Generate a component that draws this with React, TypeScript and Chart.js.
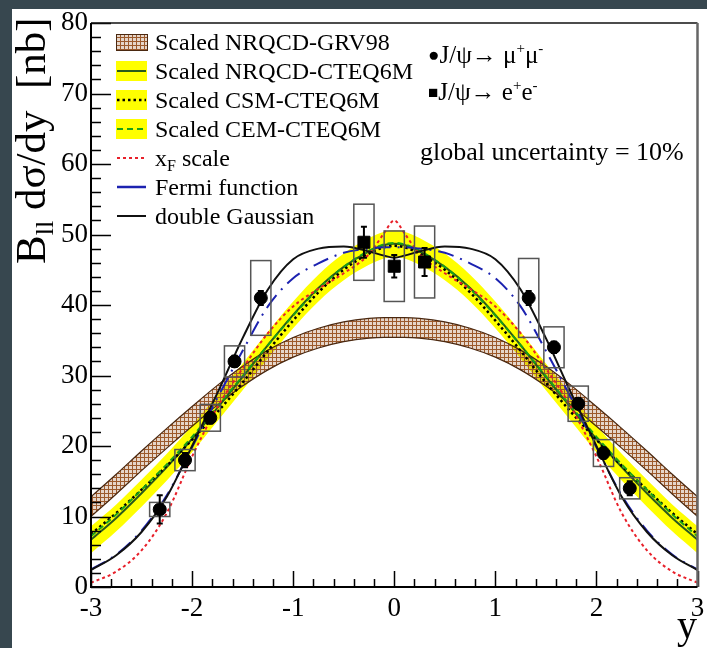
import React, { useEffect, useRef } from 'react';
import { Chart, registerables } from 'chart.js';

Chart.register(...registerables);

const FONT = '"Liberation Serif", "Times New Roman", serif';

// rapidity grid for the theory curves
const CURVE_Y = [-3, -2.75, -2.5, -2.25, -2, -1.75, -1.5, -1.25, -1, -0.75, -0.5, -0.25, -0.1, 0, 0.1, 0.25, 0.5, 0.75, 1, 1.25, 1.5, 1.75, 2, 2.25, 2.5, 2.75, 3];

const GRV_UPPER = [12.8, 16.0, 19.3, 22.5, 25.6, 28.6, 31.3, 33.6, 35.4, 36.7, 37.6, 38.1, 38.2, 38.2, 38.2, 38.1, 37.6, 36.7, 35.4, 33.6, 31.3, 28.6, 25.6, 22.5, 19.3, 16.0, 12.8];
const GRV_LOWER = [10.0, 13.2, 16.5, 19.7, 22.8, 25.8, 28.5, 30.8, 32.6, 33.9, 34.8, 35.3, 35.4, 35.4, 35.4, 35.3, 34.8, 33.9, 32.6, 30.8, 28.5, 25.8, 22.8, 19.7, 16.5, 13.2, 10.0];
const NRQCD = [6.7, 9.8, 13.3, 17.0, 21.0, 25.4, 29.8, 34.3, 38.6, 42.4, 45.4, 47.6, 48.5, 48.7, 48.5, 47.6, 45.4, 42.4, 38.6, 34.3, 29.8, 25.4, 21.0, 17.0, 13.3, 9.8, 6.7];
const NRQCD_UPPER = [8.6, 11.7, 15.2, 18.9, 22.9, 27.3, 31.7, 36.2, 40.5, 44.3, 47.3, 49.5, 50.4, 50.6, 50.4, 49.5, 47.3, 44.3, 40.5, 36.2, 31.7, 27.3, 22.9, 18.9, 15.2, 11.7, 8.6];
const NRQCD_LOWER = [4.8, 7.9, 11.4, 15.1, 19.1, 23.5, 27.9, 32.4, 36.7, 40.5, 43.5, 45.7, 46.6, 46.8, 46.6, 45.7, 43.5, 40.5, 36.7, 32.4, 27.9, 23.5, 19.1, 15.1, 11.4, 7.9, 4.8];
const CSM = [7.5, 10.5, 13.8, 17.2, 20.9, 24.8, 29.0, 33.5, 37.8, 41.8, 45.0, 47.3, 48.2, 48.4, 48.2, 47.3, 45.0, 41.8, 37.8, 33.5, 29.0, 24.8, 20.9, 17.2, 13.8, 10.5, 7.5];
const CEM = [7.2, 10.3, 13.8, 17.4, 21.3, 25.6, 29.9, 34.3, 38.5, 42.3, 45.4, 47.7, 48.6, 48.8, 48.6, 47.7, 45.4, 42.3, 38.5, 34.3, 29.9, 25.6, 21.3, 17.4, 13.8, 10.3, 7.2];
const XF_SCALE = [0.6, 2.2, 5.2, 10.5, 18.5, 25.5, 31.0, 36.0, 39.8, 42.3, 44.5, 47.2, 50.2, 52.0, 50.2, 47.2, 44.5, 42.3, 39.8, 36.0, 31.0, 25.5, 18.5, 10.5, 5.2, 2.2, 0.6];
const FERMI = [2.5, 4.6, 8.0, 13.0, 19.8, 26.8, 33.5, 39.8, 43.8, 45.9, 47.4, 48.0, 48.2, 48.2, 48.2, 48.0, 47.4, 45.9, 43.8, 39.8, 33.5, 26.8, 19.8, 13.0, 8.0, 4.6, 2.5];
const DGAUSS = [2.4, 4.5, 7.8, 12.8, 20.0, 27.5, 35.3, 42.2, 46.5, 48.0, 48.3, 47.6, 47.0, 46.7, 47.0, 47.6, 48.3, 48.0, 46.5, 42.2, 35.3, 27.5, 20.0, 12.8, 7.8, 4.5, 2.4];

// data: J/psi -> mu+ mu-
const MUMU_Y = [-2.32, -2.07, -1.82, -1.58, -1.32, 1.33, 1.58, 1.82, 2.07, 2.33];
const MUMU_V = [11, 18, 24, 32, 41, 41, 34, 26, 19, 14];
const MUMU_STAT = [2.0, 1.0, 0.8, 0.8, 1.0, 1.0, 0.8, 0.8, 0.8, 1.0];
const MUMU_SYS = [1.0, 1.5, 1.9, 2.2, 5.3, 5.6, 2.9, 2.5, 1.9, 1.5];
// data: J/psi -> e+ e-
const EE_Y = [-0.3, 0, 0.3];
const EE_V = [48.9, 45.5, 46.1];
const EE_STAT = [2.2, 1.6, 2.0];
const EE_SYS = [5.4, 5.0, 5.1];
const BOX_HALF_WIDTH = 0.1;

const X_TICKS = [-3, -2, -1, 0, 1, 2, 3];
const Y_TICKS = [0, 10, 20, 30, 40, 50, 60, 70, 80];

const LEGEND_LABELS = [
  'Scaled NRQCD-GRV98',
  'Scaled NRQCD-CTEQ6M',
  'Scaled CSM-CTEQ6M',
  'Scaled CEM-CTEQ6M',
  'x_F scale',
  'Fermi function',
  'double Gaussian',
];

// page offset of the canvas
const OX = 12;
const OY = 9;

type Part = [string, number, number];

function rich(ctx: CanvasRenderingContext2D, x: number, y: number, parts: Part[]) {
  let cx = x;
  for (const [t, size, dy] of parts) {
    ctx.font = `${size}px ${FONT}`;
    ctx.fillText(t, cx, y + dy);
    cx += ctx.measureText(t).width;
  }
  return cx;
}

function pts(xs: number[], ys: number[]) {
  return xs.map((x, i) => ({ x, y: ys[i] }));
}

export default function App() {
  const ref = useRef<HTMLCanvasElement>(null);

  useEffect(() => {
    const canvas = ref.current!;
    const c2d = canvas.getContext('2d')!;
    const tile = document.createElement('canvas');
    tile.width = 4;
    tile.height = 4;
    const tg = tile.getContext('2d')!;
    tg.fillStyle = '#9c5a2c';
    tg.fillRect(0, 0, 4, 1);
    tg.fillRect(0, 0, 1, 4);
    tg.fillStyle = 'rgba(156,90,44,0.25)';
    tg.fillRect(1, 1, 3, 3);
    const hatch = c2d.createPattern(tile, 'repeat')!;

    const lineBase = {
      type: 'line' as const,
      pointRadius: 0,
      fill: false,
      cubicInterpolationMode: 'monotone' as const,
      borderWidth: 2,
    };

    const decor = {
      id: 'decor',
      afterDatasetsDraw(chart: any) {
        const { ctx, scales } = chart;
        const x = scales.x;
        const y = scales.y;
        ctx.save();
        ctx.strokeStyle = '#555';
        ctx.lineWidth = 1.5;
        const boxes = (ys: number[], vs: number[], sys: number[]) => {
          ys.forEach((yy, i) => {
            const x0 = x.getPixelForValue(yy - BOX_HALF_WIDTH);
            const x1 = x.getPixelForValue(yy + BOX_HALF_WIDTH);
            const y0 = y.getPixelForValue(vs[i] + sys[i]);
            const y1 = y.getPixelForValue(vs[i] - sys[i]);
            ctx.strokeRect(x0, y0, x1 - x0, y1 - y0);
          });
        };
        boxes(MUMU_Y, MUMU_V, MUMU_SYS);
        boxes(EE_Y, EE_V, EE_SYS);
        ctx.strokeStyle = '#000';
        ctx.lineWidth = 2;
        const bars = (ys: number[], vs: number[], st: number[]) => {
          ys.forEach((yy, i) => {
            const px = x.getPixelForValue(yy);
            const y0 = y.getPixelForValue(vs[i] + st[i]);
            const y1 = y.getPixelForValue(vs[i] - st[i]);
            ctx.beginPath();
            ctx.moveTo(px, y0);
            ctx.lineTo(px, y1);
            ctx.moveTo(px - 3, y0);
            ctx.lineTo(px + 3, y0);
            ctx.moveTo(px - 3, y1);
            ctx.lineTo(px + 3, y1);
            ctx.stroke();
          });
        };
        bars(MUMU_Y, MUMU_V, MUMU_STAT);
        bars(EE_Y, EE_V, EE_STAT);
        ctx.restore();
      },
      afterDraw(chart: any) {
        const { ctx, chartArea: a, scales } = chart;
        const x = scales.x;
        const y = scales.y;
        ctx.save();
        ctx.strokeStyle = '#000';
        ctx.lineWidth = 1.5;
        ctx.beginPath();
        for (let v = 0; v <= 80; v += 2) {
          const py = Math.round(y.getPixelForValue(v)) + 0.5;
          const len = v % 10 === 0 ? 20 : 10;
          ctx.moveTo(a.left, py);
          ctx.lineTo(a.left + len, py);
        }
        for (let k = -15; k <= 15; k++) {
          const t = k / 5;
          const px = Math.round(x.getPixelForValue(t)) + 0.5;
          const len = k % 5 === 0 ? 16 : 8;
          ctx.moveTo(px, a.bottom);
          ctx.lineTo(px, a.bottom - len);
        }
        ctx.stroke();
        ctx.lineWidth = 1.5;
        ctx.strokeStyle = '#111';
        ctx.beginPath();
        ctx.moveTo(a.left, a.top);
        ctx.lineTo(a.right, a.top);
        ctx.stroke();
        ctx.lineWidth = 2.5;
        ctx.strokeStyle = '#666';
        ctx.beginPath();
        ctx.moveTo(a.right, a.top);
        ctx.lineTo(a.right, a.bottom);
        ctx.stroke();
        ctx.lineWidth = 2;
        ctx.strokeStyle = '#000';
        ctx.beginPath();
        ctx.moveTo(a.left, a.top);
        ctx.lineTo(a.left, a.bottom);
        ctx.lineTo(a.right, a.bottom);
        ctx.stroke();

        // legend
        const lx0 = 116 - OX;
        const lx1 = 147 - OX;
        const rowY = [42, 71, 100, 129, 158, 187, 216].map((v) => v - OY);
        ctx.fillStyle = hatch;
        ctx.fillRect(lx0, rowY[0] - 8, lx1 - lx0, 16);
        ctx.strokeStyle = '#4a2810';
        ctx.lineWidth = 1;
        ctx.strokeRect(lx0 + 0.5, rowY[0] - 8 + 0.5, lx1 - lx0, 16);
        for (let r = 1; r <= 3; r++) {
          ctx.fillStyle = '#ffff00';
          ctx.fillRect(lx0, rowY[r] - 10, lx1 - lx0, 20);
        }
        const seg = (r: number, color: string, dash: number[], w: number) => {
          ctx.strokeStyle = color;
          ctx.lineWidth = w;
          ctx.setLineDash(dash);
          ctx.beginPath();
          ctx.moveTo(lx0 + 1, rowY[r]);
          ctx.lineTo(lx1 - 1, rowY[r]);
          ctx.stroke();
          ctx.setLineDash([]);
        };
        seg(1, '#2a5a1c', [], 2);
        seg(2, '#000', [2.5, 3], 2.5);
        seg(3, '#1aa01a', [6, 4], 2);
        seg(4, '#e8202a', [3, 3], 2);
        seg(5, '#1c22b0', [30], 2.5);
        seg(6, '#111', [], 2);

        ctx.fillStyle = '#000';
        ctx.textAlign = 'left';
        ctx.textBaseline = 'alphabetic';
        const tx = 155 - OX;
        const fs = 24;
        LEGEND_LABELS.forEach((lab, i) => {
          const by = rowY[i] + 8;
          if (lab.startsWith('x_F')) {
            rich(ctx, tx, by, [['x', fs, 0], ['F', 16, 5], [lab.slice(3), fs, 0]]);
          } else {
            rich(ctx, tx, by, [[lab, fs, 0]]);
          }
        });

        // annotations
        rich(ctx, 428 - OX, 63 - OY, [['\u25cf', 19, -2], ['J/\u03c8\u2192 \u03bc', 25, 0], ['+', 15, -10], ['\u03bc', 25, 0], ['-', 15, -10]]);
        rich(ctx, 428 - OX, 100 - OY, [['\u25a0', 17, -2], ['J/\u03c8\u2192 e', 25, 0], ['+', 15, -10], ['e', 25, 0], ['-', 15, -10]]);
        rich(ctx, 420 - OX, 160 - OY, [['global uncertainty = 10%', 26, 0]]);

        // axis titles
        ctx.textAlign = 'right';
        ctx.font = `40px ${FONT}`;
        ctx.fillText('y', 697 - OX, 638 - OY);

        ctx.save();
        ctx.translate(45 - OX, 264 - OY);
        ctx.rotate(-Math.PI / 2);
        ctx.textAlign = 'left';
        rich(ctx, 0, 0, [['B', 43, 0], ['ll', 26, 8], [' d\u03c3/dy  [nb]', 43, 0]]);
        ctx.restore();

        ctx.restore();
      },
    };

    const chart = new Chart(canvas, {
      type: 'line',
      data: {
        datasets: [
          {
            type: 'scatter',
            data: pts(MUMU_Y, MUMU_V),
            showLine: false,
            pointStyle: 'circle',
            pointRadius: 6.5,
            backgroundColor: '#000',
            borderColor: '#000',
          } as any,
          {
            type: 'scatter',
            data: pts(EE_Y, EE_V),
            showLine: false,
            pointStyle: 'rect',
            pointRadius: 8.5,
            backgroundColor: '#000',
            borderColor: '#000',
          } as any,
          { ...lineBase, data: pts(CURVE_Y, DGAUSS), borderColor: '#111' },
          { ...lineBase, data: pts(CURVE_Y, FERMI), borderColor: '#1c22b0', borderDash: [16, 7, 2, 7] },
          { ...lineBase, data: pts(CURVE_Y, XF_SCALE), borderColor: '#e8202a', borderDash: [3, 3] },
          { ...lineBase, data: pts(CURVE_Y, CEM), borderColor: '#1aa01a', borderDash: [6, 4] },
          { ...lineBase, data: pts(CURVE_Y, CSM), borderColor: '#000', borderDash: [2.5, 3], borderWidth: 2.5 },
          { ...lineBase, data: pts(CURVE_Y, NRQCD), borderColor: '#2a5a1c' },
          { ...lineBase, data: pts(CURVE_Y, GRV_LOWER), borderColor: '#4a2810', borderWidth: 1.2 },
          { ...lineBase, data: pts(CURVE_Y, GRV_UPPER), borderColor: '#4a2810', borderWidth: 1.2, fill: { target: 8 }, backgroundColor: hatch },
          { ...lineBase, data: pts(CURVE_Y, NRQCD_LOWER), borderWidth: 0, borderColor: 'rgba(0,0,0,0)' },
          { ...lineBase, data: pts(CURVE_Y, NRQCD_UPPER), borderWidth: 0, borderColor: 'rgba(0,0,0,0)', fill: { target: 10 }, backgroundColor: '#ffff00' },
        ] as any,
      },
      options: {
        responsive: false,
        animation: false,
        devicePixelRatio: 1,
        layout: { padding: { left: 0, top: 14, right: 9, bottom: 0 } },
        plugins: { legend: { display: false }, tooltip: { enabled: false } },
        scales: {
          x: {
            type: 'linear',
            min: -3,
            max: 3,
            afterBuildTicks: (s: any) => { s.ticks = X_TICKS.map((v) => ({ value: v })); },
            ticks: { color: '#000', font: { family: FONT, size: 27 }, padding: 6, maxRotation: 0, autoSkip: false },
            grid: { display: false, drawTicks: false },
            border: { display: false },
            afterFit: (s: any) => { s.height = 61; s.paddingLeft = 0; s.paddingRight = 0; },
          },
          y: {
            type: 'linear',
            min: 0,
            max: 80,
            afterBuildTicks: (s: any) => { s.ticks = Y_TICKS.map((v) => ({ value: v })); },
            ticks: { color: '#000', font: { family: FONT, size: 27 }, padding: 3, autoSkip: false },
            grid: { display: false, drawTicks: false },
            border: { display: false },
            afterFit: (s: any) => { s.width = 79; s.paddingTop = 0; s.paddingBottom = 0; },
          },
        },
      } as any,
      plugins: [decor],
    });
    return () => chart.destroy();
  }, []);

  return (
    <div style={{ position: 'fixed', left: 0, top: 0, width: 707, height: 648, background: '#37474f' }}>
      <div style={{ position: 'absolute', left: OX, top: OY, width: 707 - OX, height: 648 - OY, background: '#fff' }}>
        <canvas ref={ref} width={707 - OX} height={648 - OY} style={{ display: 'block', width: 707 - OX, height: 648 - OY }} />
      </div>
    </div>
  );
}
